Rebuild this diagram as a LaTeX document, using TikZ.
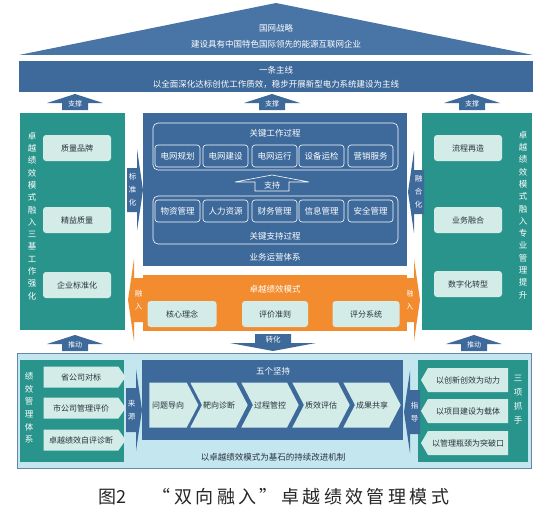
\documentclass[tikz,border=0pt]{standalone}
\usepackage{fontspec}
\setmainfont{Noto Sans CJK SC}
\newfontfamily\capfont[LetterSpace=19]{Noto Sans CJK SC}
\usepackage{xcolor}
\usepackage{tikz}
\usetikzlibrary{shapes.symbols, positioning}

\definecolor{mainblue}{RGB}{61,105,155}
\definecolor{roofblue}{RGB}{72,116,166}
\definecolor{mainteal}{RGB}{40,148,140}
\definecolor{lightteal}{RGB}{212,236,232}
\definecolor{mainorange}{RGB}{242,140,46}
\definecolor{palecyan}{RGB}{196,230,238}
\definecolor{darktext}{RGB}{40,50,60}

\tikzset{
  whitetext/.style={text=white, align=center},
  lightitem/.style={fill=lightteal, rounded corners=3pt, minimum width=68pt, minimum height=26pt,
    text=darktext, font=\fontsize{8}{9}\selectfont, inner sep=1pt},
  blueitem/.style={draw=white, line width=0.6pt, fill=mainblue, rounded corners=3pt,
    minimum width=45pt, minimum height=22pt, text=white, font=\fontsize{8.5}{9}\selectfont, inner sep=1pt},
  processbox/.style={draw=white, line width=0.6pt, rounded corners=5pt},
  vtext/.style={align=center, text=white, font=\fontsize{8.5}{12.3}\selectfont, inner sep=0pt},
  chevron/.style={signal, fill=lightteal, text=darktext, inner sep=1pt,
    font=\fontsize{8}{9}\selectfont},
}

% block arrows: apex x, apex y, name, text
\newcommand{\uparrowbox}[4]{%
  \begin{scope}[shift={(#1,#2)}]
    \fill[mainblue] (0,0) -- (28,9) -- (13,9) -- (13,16) -- (-13,16) -- (-13,9) -- (-28,9) -- cycle;
    \node[whitetext, font=\fontsize{7}{7}\selectfont, inner sep=0pt] (#3) at (0,9.5) {#4};
  \end{scope}}
% side arrows: tip x, tip y, direction (1 right, -1 left), colour, name, text
\newcommand{\sidearrow}[6]{%
  \begin{scope}[shift={(#1,#2)}]
    \fill[#4, xscale=#3] (0,0) -- (-6,-41) -- (-6,-22) -- (-16,-22) -- (-16,22) -- (-6,22) -- (-6,41) -- cycle;
    \node[vtext, font=\fontsize{7.5}{13}\selectfont] (#5) at ({-10.5*#3},0) {#6};
  \end{scope}}

\begin{document}
\begin{tikzpicture}[x=1pt, y=-1pt]
\useasboundingbox (0,0) rectangle (541,511);

% roof and main line
\fill[roofblue] (19,55) -- (276,3) -- (533,55) -- cycle;
\node[whitetext, font=\fontsize{8.5}{16}\selectfont] (strategy) at (276,36)
  {国网战略\\建设具有中国特色国际领先的能源互联网企业};
\fill[mainblue] (19,61) rectangle (533,92);
\node[whitetext, font=\fontsize{8.5}{14}\selectfont] (mainline) at (276,77)
  {一条主线\\以全面深化达标创优工作质效，稳步开展新型电力系统建设为主线};

\uparrowbox{75}{94}{supL}{支撑}
\uparrowbox{272}{94}{supM}{支撑}
\uparrowbox{472}{94}{supR}{支撑}

% left column
\fill[mainteal] (20,113) rectangle (125,330);
\node[vtext] (leftcap) at (32,216)
  {卓\\越\\绩\\效\\模\\式\\融\\入\\三\\基\\工\\作\\强\\化};
\node[lightitem] (brand) at (77,148) {质量品牌};
\node[lightitem] (lean) at (77,220) {精益质量};
\node[lightitem] (stdz) at (77,285) {企业标准化};

% right column
\fill[mainteal] (422,113) rectangle (532,330);
\node[vtext] (rightcap) at (523,215)
  {卓\\越\\绩\\效\\模\\式\\融\\入\\专\\业\\管\\理\\提\\升};
\node[lightitem] (reflow) at (468,148) {流程再造};
\node[lightitem] (merge) at (468,220) {业务融合};
\node[lightitem] (digital) at (468,284) {数字化转型};

% business operation system
\fill[mainblue] (143,113) rectangle (407,266);
\draw[processbox] (153,123) rectangle (398,170);
\node[whitetext, font=\fontsize{8.5}{9}\selectfont] (keywork) at (275,133) {关键工作过程};
\node[blueitem] (plan) at (177.5,156) {电网规划};
\node[blueitem] (build) at (225.5,156) {电网建设};
\node[blueitem] (run) at (274.5,156) {电网运行};
\node[blueitem] (maint) at (321.5,156) {设备运检};
\node[blueitem] (sales) at (370.5,156) {营销服务};
\begin{scope}[shift={(272,175)}]
  \filldraw[fill=mainblue, draw=white, line width=0.6pt]
    (0,0) -- (37,7) -- (17,7) -- (17,16) -- (-17,16) -- (-17,7) -- (-37,7) -- cycle;
  \node[whitetext, font=\fontsize{8}{8}\selectfont, inner sep=0pt] (hold) at (0,10.5) {支持};
\end{scope}
\draw[processbox] (153,196) rectangle (398,244);
\node[blueitem] (material) at (177.5,211) {物资管理};
\node[blueitem] (staff) at (225.5,211) {人力资源};
\node[blueitem] (finance) at (274.5,211) {财务管理};
\node[blueitem] (info) at (321.5,211) {信息管理};
\node[blueitem] (safety) at (370.5,211) {安全管理};
\node[whitetext, font=\fontsize{8.5}{9}\selectfont] (keysupport) at (275,236) {关键支持过程};
\node[whitetext, font=\fontsize{8.5}{9}\selectfont] (opsys) at (275,257) {业务运营体系};

\sidearrow{143}{190}{1}{mainblue}{stdarr}{标\\准\\化}
\sidearrow{408}{192}{-1}{mainblue}{fusearr}{融\\合\\化}
\sidearrow{128}{300}{-1}{mainorange}{inL}{融\\入}
\sidearrow{420}{300}{1}{mainorange}{inR}{融\\入}

% excellence model
\fill[mainorange] (143,275) rectangle (407,331);
\node[whitetext, font=\fontsize{8.5}{9}\selectfont] (model) at (275,289) {卓越绩效模式};
\node[lightitem, minimum width=69pt] (core) at (182,314) {核心理念};
\node[lightitem, minimum width=66pt] (criteria) at (275,314) {评价准则};
\node[lightitem, minimum width=67pt] (scoring) at (366,314) {评分系统};

% transform arrow
\begin{scope}[shift={(273,351)}]
  \fill[mainblue] (0,0) -- (-43,-8) -- (-18,-8) -- (-18,-17) -- (18,-17) -- (18,-8) -- (43,-8) -- cycle;
  \node[whitetext, font=\fontsize{7.5}{8}\selectfont, inner sep=0pt] (convert) at (0,-11.5) {转化};
\end{scope}
\uparrowbox{75}{335}{pushL}{推动}
\uparrowbox{474}{335}{pushR}{推动}

% continuous improvement
\filldraw[fill=palecyan, draw=mainblue!80, line width=0.5pt] (17,353) rectangle (531,468);
\fill[mainteal] (20,360) rectangle (124,462);
\node[vtext, font=\fontsize{8.5}{12.6}\selectfont] (perfsys) at (29,408) {绩\\效\\管\\理\\体\\系};
\node[chevron, signal to=east, signal pointer angle=110, minimum width=82pt, minimum height=21pt]
  (bench) at (81,377) {省公司对标};
\node[chevron, signal to=east, signal pointer angle=110, minimum width=82pt, minimum height=21pt]
  (citye) at (81,408) {市公司管理评价};
\node[chevron, signal to=east, signal pointer angle=110, minimum width=82pt, minimum height=21pt]
  (selfe) at (81,440) {卓越绩效自评诊断};

\fill[mainblue] (142,360) rectangle (403,440);
\node[whitetext, font=\fontsize{8.5}{9}\selectfont] (five) at (273,371) {五个坚持};
\node[chevron, signal to=east, signal pointer angle=125, minimum width=49pt, minimum height=45pt]
  (problem) at (168,405) {问题导向};
\foreach \cx/\nm/\txt in {219/target/靶向诊断, 270/control/过程管控, 321/quality/质效评估, 372/share/成果共享}
  \node[chevron, signal to=east, signal from=west, signal pointer angle=125,
    minimum width=49pt, minimum height=45pt] (\nm) at (\cx,405) {\txt};
\node[text=darktext, font=\fontsize{8.5}{9}\selectfont] (base) at (273,457)
  {以卓越绩效模式为基石的持续改进机制};

\fill[mainteal] (418,360) rectangle (528,462);
\node[vtext, font=\fontsize{8.5}{14}\selectfont] (threeh) at (518,400) {三\\项\\抓\\手};
\node[chevron, signal to=west, signal pointer angle=120, minimum width=87pt, minimum height=24pt]
  (innov) at (468,380) {以创新创效为动力};
\node[chevron, signal to=west, signal pointer angle=120, minimum width=87pt, minimum height=24pt]
  (project) at (468,411) {以项目建设为载体};
\node[chevron, signal to=west, signal pointer angle=120, minimum width=87pt, minimum height=24pt]
  (bottle) at (468,443) {以管理瓶颈为突破口};

\sidearrow{142}{410}{1}{mainblue}{srcarr}{来\\源}
\sidearrow{404}{412}{-1}{mainblue}{guidearr}{指\\导}

% caption
\node[text=black!85, font=\fontsize{18}{20}\selectfont] (figno) at (112,497) {图2};
\node[text=black!85, font=\capfont\fontsize{18}{20}\selectfont, inner sep=0pt] (figtitle) at (301,497)
  {“双向融入”卓越绩效管理模式};
\end{tikzpicture}
\end{document}
